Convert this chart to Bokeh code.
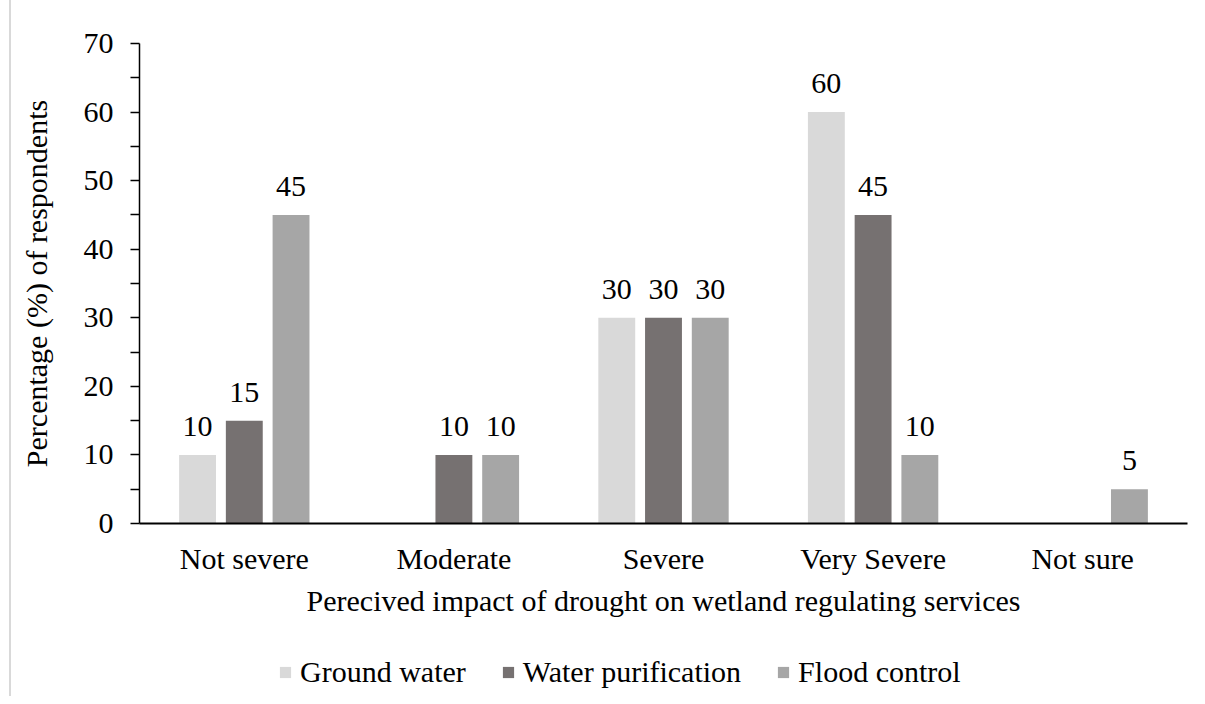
from bokeh.plotting import figure
from bokeh.layouts import column
from bokeh.models import (ColumnDataSource, FactorRange, Range1d, FixedTicker,
                          Legend, LegendItem)
from bokeh.transform import dodge
from bokeh.core.properties import value
from bokeh.embed import file_html
from bokeh.resources import INLINE

categories = ["Not severe", "Moderate", "Severe", "Very Severe", "Not sure"]
ground_water = [10, 0, 30, 60, 0]
water_purification = [15, 10, 30, 45, 0]
flood_control = [45, 10, 30, 10, 5]
series_names = ["Ground water", "Water purification", "Flood control"]
series_values = [ground_water, water_purification, flood_control]
colors = ["#D9D9D9", "#767171", "#A6A6A6"]
y_major_ticks = [0, 10, 20, 30, 40, 50, 60, 70]
y_minor_ticks = [5, 15, 25, 35, 45, 55, 65]
x_title = "Perecived impact of drought on wetland regulating services"
y_title = "Percentage (%) of respondents"

FONT = "Liberation Serif"
FS = "30px"
offsets = [-0.223, 0.0, 0.223]
bar_w = 0.176

p = figure(x_range=FactorRange(factors=categories, range_padding=0),
           y_range=Range1d(0, 70),
           width=1186, height=648,
           output_backend="svg", toolbar_location=None,
           min_border_left=128, min_border_right=10,
           min_border_top=43, min_border_bottom=125)

for name, vals, col, off in zip(series_names, series_values, colors, offsets):
    src = ColumnDataSource(dict(cat=categories, val=vals))
    p.vbar(x=dodge("cat", off, range=p.x_range), top="val", width=bar_w,
           source=src, fill_color=col, line_color=None)
    lc = [c for c, v in zip(categories, vals) if v > 0]
    lv = [v for v in vals if v > 0]
    lsrc = ColumnDataSource(dict(cat=lc, val=lv, txt=[str(v) for v in lv]))
    p.text(x=dodge("cat", off, range=p.x_range), y="val", text="txt", source=lsrc,
           text_align="center", text_baseline="bottom", y_offset=-19,
           text_font=value(FONT), text_font_size=FS, text_color="black")

# axes
p.xgrid.grid_line_color = None
p.ygrid.grid_line_color = None
p.outline_line_color = None

xa = p.xaxis[0]
xa.axis_line_color = "black"
xa.axis_line_width = 2
xa.major_tick_line_color = None
xa.minor_tick_line_color = None
xa.major_label_text_font = FONT
xa.major_label_text_font_size = FS
xa.major_label_text_color = "black"
xa.major_label_standoff = 12
xa.axis_label = x_title
xa.axis_label_text_font = FONT
xa.axis_label_text_font_size = FS
xa.axis_label_text_font_style = "normal"
xa.axis_label_text_color = "black"
xa.axis_label_standoff = 6

ya = p.yaxis[0]
ya.ticker = FixedTicker(ticks=y_major_ticks, minor_ticks=y_minor_ticks)
ya.axis_line_color = "black"
ya.axis_line_width = 1.5
ya.major_tick_line_color = "black"
ya.major_tick_line_width = 1.5
ya.major_tick_in = 0
ya.major_tick_out = 9
ya.minor_tick_line_color = "black"
ya.minor_tick_line_width = 1.5
ya.minor_tick_in = 0
ya.minor_tick_out = 9
ya.major_label_text_font = FONT
ya.major_label_text_font_size = FS
ya.major_label_text_color = "black"
ya.major_label_standoff = 17
ya.axis_label = y_title
ya.axis_label_text_font = FONT
ya.axis_label_text_font_size = FS
ya.axis_label_text_font_style = "normal"
ya.axis_label_text_color = "black"
ya.axis_label_standoff = 28

# legend strip below the chart
lf = figure(x_range=Range1d(0, 1), y_range=Range1d(0, 1), width=1186, height=48,
            output_backend="svg", toolbar_location=None,
            x_axis_location=None, y_axis_location=None,
            min_border=0, min_border_left=0, min_border_right=0,
            min_border_top=0, min_border_bottom=0)
lf.xgrid.grid_line_color = None
lf.ygrid.grid_line_color = None
lf.outline_line_color = None
items = []
for name, col in zip(series_names, colors):
    r = lf.vbar(x=[-5], top=[0], width=0.1, fill_color=col, line_color=None)
    items.append(LegendItem(label=name, renderers=[r]))
legend = Legend(items=items, orientation="horizontal", location=(139, 7),
                label_text_font=FONT, label_text_font_size=FS,
                label_text_color="black",
                glyph_width=14, glyph_height=14, label_standoff=8, spacing=35,
                border_line_color=None, background_fill_alpha=0,
                margin=0, padding=0)
lf.add_layout(legend, "center")

layout = column(p, lf, spacing=0)
layout.styles = {"margin-left": "9px", "border-left": "2px solid #D9D9D9"}

open("out.html", "w").write(file_html(layout, INLINE))
